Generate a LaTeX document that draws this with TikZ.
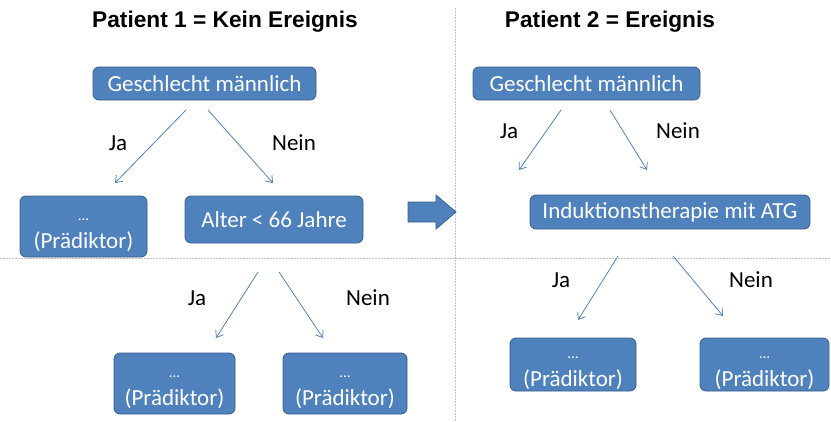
\documentclass[tikz,border=0pt]{standalone}
\usepackage{fontspec}
\setmainfont{Carlito}
\newfontfamily\titlefont{Liberation Sans}
\usetikzlibrary{arrows.meta}
\definecolor{boxfill}{HTML}{4F81BD}
\definecolor{boxline}{HTML}{385D8A}
\definecolor{sepgray}{HTML}{BFBFBF}
\newcommand{\predtext}{{\fontsize{15}{15}\selectfont\rule{0pt}{20pt}…}\\[5pt](Prädiktor)}
\tikzset{
  box/.style={draw=boxline, line width=0.8pt, fill=boxfill, rounded corners=6pt, text=white, font=\fontsize{23}{23}\selectfont, align=center, inner sep=0pt},
  conn/.style={draw=boxfill, line width=0.8pt, -{Straight Barb[length=6pt,width=9pt]}},
  lbl/.style={font=\fontsize{23}{25}\selectfont, text=black},
  ttl/.style={font=\titlefont\bfseries\fontsize{22.7}{26}\selectfont},
  sep/.style={draw=sepgray, line width=0.6pt, dash pattern=on 1.5pt off 1.5pt},
}
\begin{document}
\begin{tikzpicture}[x=1pt,y=-1pt]
\useasboundingbox (0,0) rectangle (831,421);
% separators
\coordinate (v1) at (455,8); \coordinate (v2) at (455,421);
\coordinate (h1) at (0,258); \coordinate (h2) at (831,258);
\draw[sep] (v1) -- (v2);
\draw[sep] (h1) -- (h2);
% titles
\node[ttl] (t1) at (225,22) {Patient 1 = Kein Ereignis};
\node[ttl] (t2) at (610,22) {Patient 2 = Ereignis};
% left tree
\node[box, minimum width=223pt, minimum height=33pt] (g1) at (204.5,83.5) {Geschlecht männlich};
\node[box, minimum width=127pt, minimum height=61pt] (p1) at (83.5,226.5) {\predtext};
\node[box, minimum width=178pt, minimum height=47pt] (a1) at (274,219.5) {Alter < 66 Jahre};
\node[box, minimum width=121pt, minimum height=61pt] (p2) at (174.5,383.5) {\predtext};
\node[box, minimum width=124pt, minimum height=61pt] (p3) at (345,383.5) {\predtext};
\coordinate (g1a) at (186,110); \coordinate (g1ae) at (115,183);
\coordinate (g1b) at (208,110); \coordinate (g1be) at (273,183);
\draw[conn] (g1a) -- (g1ae);
\draw[conn] (g1b) -- (g1be);
\node[lbl] (l1) at (118,143) {Ja};
\node[lbl] (l2) at (294,143) {Nein};
\coordinate (a1a) at (258,272); \coordinate (a1ae) at (216,338);
\coordinate (a1b) at (279,272); \coordinate (a1be) at (323,338);
\draw[conn] (a1a) -- (a1ae);
\draw[conn] (a1b) -- (a1be);
\node[lbl] (l3) at (197,298) {Ja};
\node[lbl] (l4) at (368,298) {Nein};
% block arrow
\draw[draw=boxline, fill=boxfill, line width=0.8pt]
  (408,202) -- (436,202) -- (436,195) -- (456,212) -- (436,229) -- (436,222) -- (408,222) -- cycle;
% right tree
\node[box, minimum width=227pt, minimum height=33pt] (g2) at (586.5,83.5) {Geschlecht männlich};
\node[box, minimum width=280pt, minimum height=34pt] (i2) at (670,212) {Induktionstherapie mit ATG};
\node[box, minimum width=126pt, minimum height=53pt] (p4) at (573,364.5) {\predtext};
\node[box, minimum width=129pt, minimum height=53pt] (p5) at (764.5,364.5) {\predtext};
\coordinate (g2a) at (561,110); \coordinate (g2ae) at (519,170);
\coordinate (g2b) at (610,110); \coordinate (g2be) at (647,170);
\draw[conn] (g2a) -- (g2ae);
\draw[conn] (g2b) -- (g2be);
\node[lbl] (l5) at (509,131) {Ja};
\node[lbl] (l6) at (678,131) {Nein};
\coordinate (i2a) at (618,256); \coordinate (i2ae) at (578,320);
\coordinate (i2b) at (673,256); \coordinate (i2be) at (723,316);
\draw[conn] (i2a) -- (i2ae);
\draw[conn] (i2b) -- (i2be);
\node[lbl] (l7) at (561,280) {Ja};
\node[lbl] (l8) at (751,280) {Nein};
\end{tikzpicture}
\end{document}
